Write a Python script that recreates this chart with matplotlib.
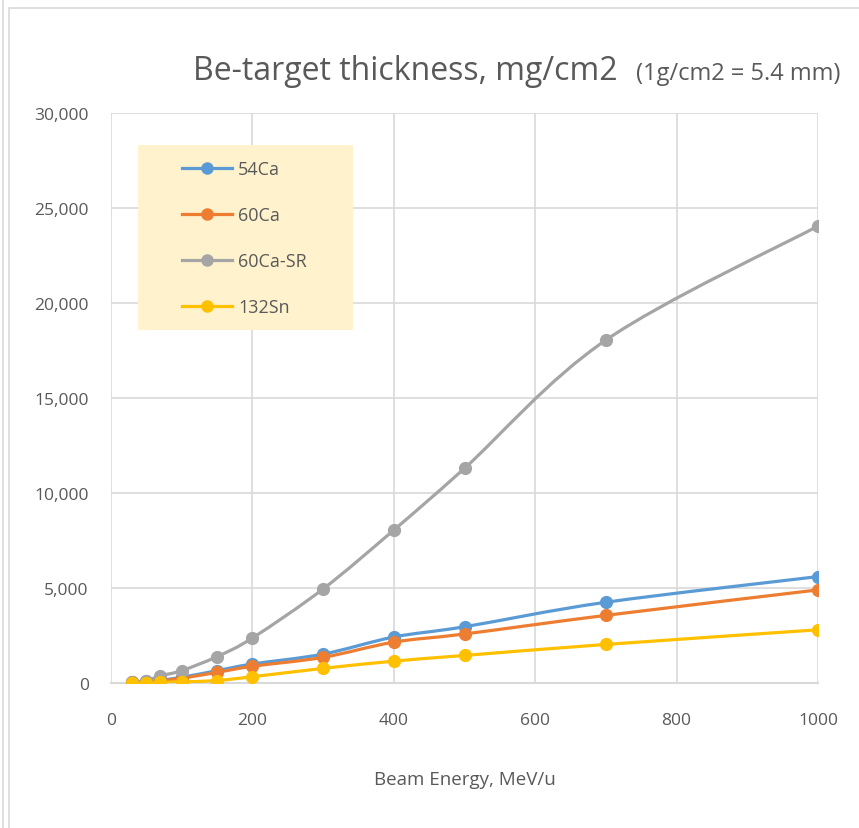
import matplotlib.pyplot as plt
import numpy as np
from matplotlib.path import Path
from matplotlib.patches import PathPatch, Rectangle
from matplotlib.ticker import FuncFormatter
from matplotlib.lines import Line2D

energy = [30, 50, 70, 100, 150, 200, 300, 400, 500, 700, 1000]
ca54 = [40, 80, 150, 300, 650, 1000, 1520, 2420, 2960, 4250, 5600]
ca60 = [30, 60, 120, 250, 560, 880, 1350, 2150, 2580, 3560, 4900]
ca60_sr = [60, 120, 380, 650, 1390, 2370, 4950, 8050, 11300, 18050, 24050]
sn132 = [10, 20, 40, 60, 130, 330, 770, 1150, 1450, 2030, 2800]

names = ["54Ca", "60Ca", "60Ca-SR", "132Sn"]
colors = ["#5b9bd5", "#ed7d31", "#a5a5a5", "#ffc000"]
series = [ca54, ca60, ca60_sr, sn132]

plt.rcParams['font.family'] = ['Open Sans', 'DejaVu Sans']
txt = "#595959"


def smooth_path(x, y):
    # bezier segments like the spreadsheet's smoothed line
    p = np.column_stack([x, y]).astype(float)
    n = len(p)
    verts = [p[0]]
    codes = [Path.MOVETO]
    for i in range(n - 1):
        p0 = p[i - 1] if i > 0 else p[i]
        p3 = p[i + 2] if i + 2 < n else p[i + 1]
        c1 = p[i] + (p[i + 1] - p0) / 6
        c2 = p[i + 1] - (p3 - p[i]) / 6
        verts += [c1, c2, p[i + 1]]
        codes += [Path.CURVE4] * 3
    return Path(verts, codes)


fig = plt.figure(figsize=(8.59, 8.29), dpi=100)
ax = fig.add_axes([111 / 859, 1 - 684 / 829, (818 - 111) / 859, (684 - 114) / 829])

for name, col, vals in zip(names, colors, series):
    ax.add_patch(PathPatch(smooth_path(energy, vals), fill=False, edgecolor=col,
                           lw=2.3, capstyle='round', zorder=3))
    ax.plot(energy, vals, linestyle='none', marker='o', ms=8.5, color=col, zorder=4)

ax.set_xlim(0, 1000)
ax.set_ylim(0, 30000)
ax.set_xticks(range(0, 1001, 200))
ax.set_yticks(range(0, 30001, 5000))
ax.yaxis.set_major_formatter(FuncFormatter(lambda v, p: f"{int(v):,}"))
ax.grid(True, color="#d9d9d9", lw=1.2)
ax.set_axisbelow(True)
for s in ["top", "right", "left"]:
    ax.spines[s].set_visible(False)
ax.spines["bottom"].set_color("#d9d9d9")
ax.spines["bottom"].set_linewidth(1.5)
ax.tick_params(length=0, labelsize=12.5, labelcolor=txt)
ax.tick_params(axis='y', pad=16)
ax.tick_params(axis='x', pad=21)
ax.set_xlabel("Beam Energy, MeV/u", fontsize=13.5, color=txt, labelpad=30)

# legend background box
ax.add_patch(Rectangle((27 / 707, (684 - 331) / 570), 215 / 707, 185 / 570,
                       transform=ax.transAxes, facecolor="#fff2cc", edgecolor="none", zorder=5))
handles = [Line2D([], [], color=c, lw=2.3, marker='o', ms=8) for c in colors]
leg = ax.legend(handles, names, loc='upper left', bbox_to_anchor=(71 / 707, 1 - 47 / 570),
                frameon=False, fontsize=13, labelspacing=1.55, handlelength=2.75,
                handletextpad=0.35, borderpad=0, borderaxespad=0, labelcolor=txt)
leg.set_zorder(6)

fig.text(193 / 859, 1 - 80 / 829, "Be-target thickness, mg/cm2", fontsize=23, color=txt)
fig.text(636 / 859, 1 - 80 / 829, "(1g/cm2 = 5.4 mm)", fontsize=17, color=txt)

fig.patches.append(Rectangle((9 / 859, -0.01), 1.0, 1 - 9 / 829 + 0.01, transform=fig.transFigure,
                             fill=False, edgecolor="#d9d9d9", lw=1.2))
fig.add_artist(Line2D([3 / 859, 3 / 859], [0, 1], transform=fig.transFigure,
                      color="#d9d9d9", lw=1.2))

fig.savefig("out.png", dpi=100)
